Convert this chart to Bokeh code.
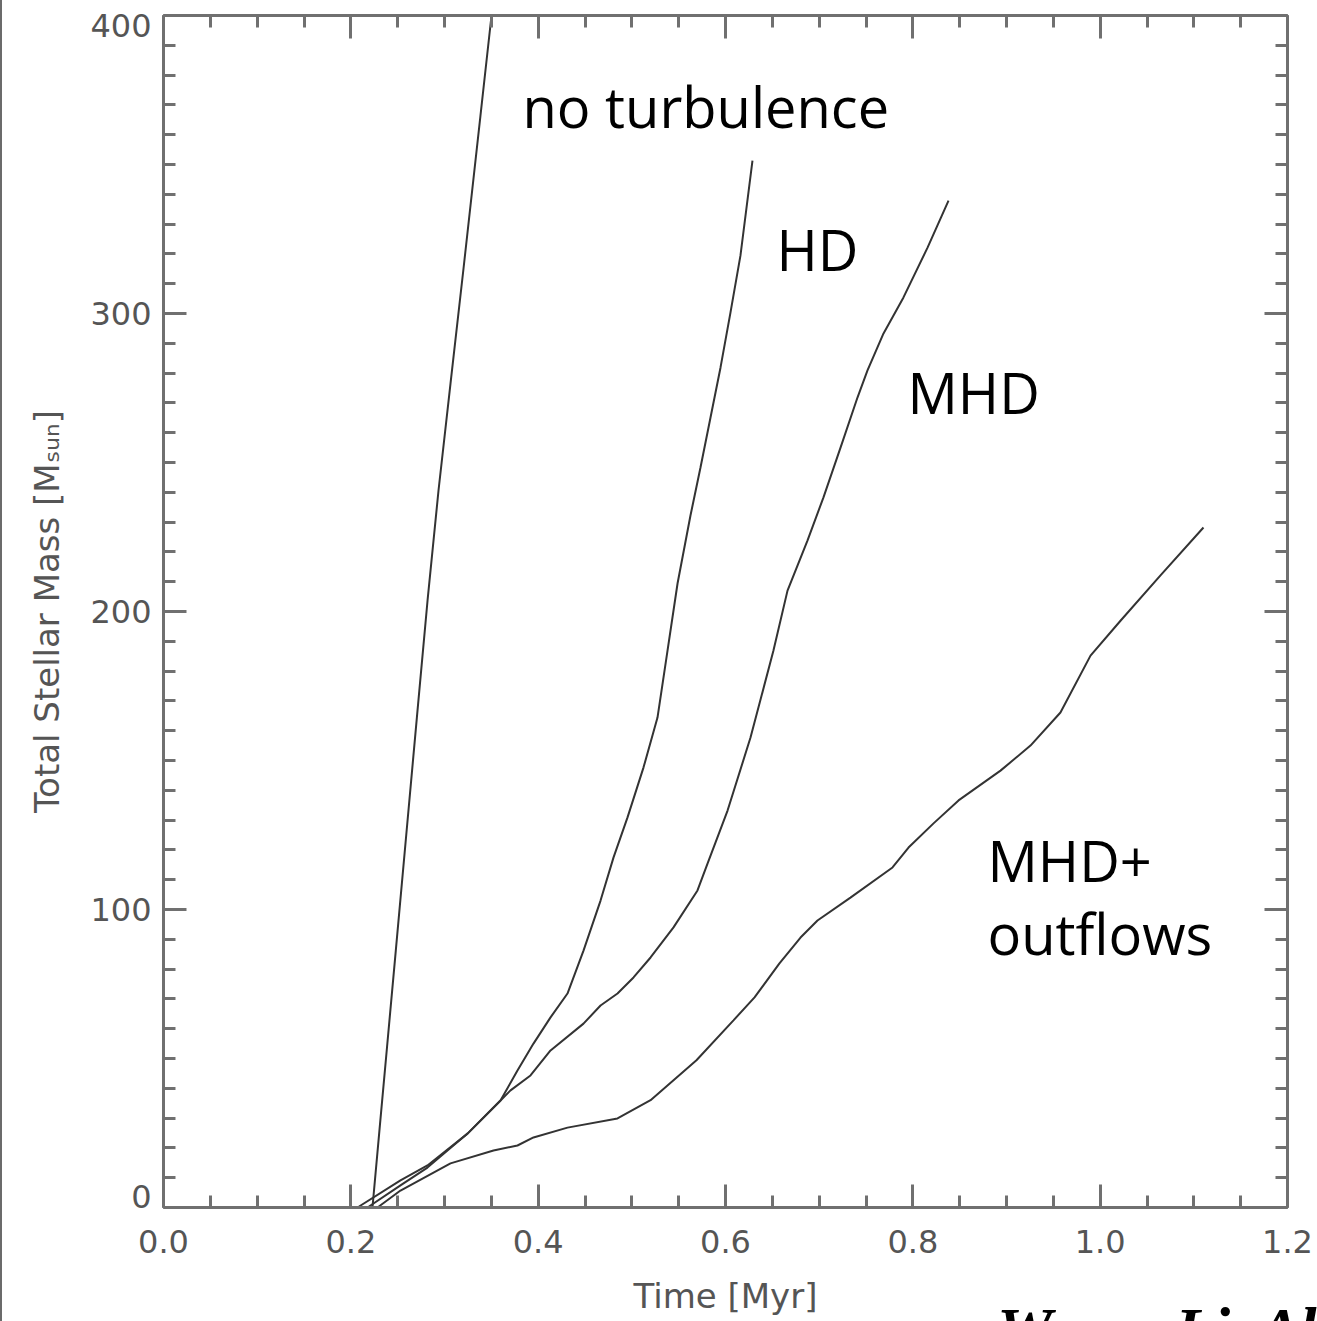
from bokeh.plotting import figure
from bokeh.models import (FixedTicker, LinearAxis, Label, Range1d,
                          PrintfTickFormatter, CustomJSTickFormatter)
from bokeh.embed import file_html
from bokeh.resources import INLINE

# ---- data (Time [Myr], Total Stellar Mass [Msun]) ----
time_noturb = [0.2231, 0.2310, 0.2386, 0.2480, 0.2593, 0.2705, 0.2819, 0.2936,
               0.3064, 0.3203, 0.3384, 0.3502]
mass_noturb = [0.0, 27.5, 53.7, 86.2, 125.5, 164.4, 203.7, 240.6,
               276.5, 315.1, 366.4, 400.0]

time_hd = [0.2071, 0.2530, 0.2818, 0.3246, 0.3598, 0.3779, 0.3950, 0.4132,
           0.4313, 0.4484, 0.4666, 0.4804, 0.4954, 0.5125, 0.5274, 0.5381,
           0.5488, 0.5626, 0.5733, 0.5840, 0.5947, 0.6053, 0.6160, 0.6288]
mass_hd = [0.0, 9.1, 14.1, 24.8, 35.9, 46.0, 55.0, 63.8,
           71.8, 86.2, 103.0, 117.4, 130.9, 147.7, 164.4, 186.9,
           209.4, 232.2, 248.3, 265.1, 281.9, 300.3, 319.5, 351.3]

time_mhd = [0.2178, 0.2530, 0.2818, 0.3246, 0.3598, 0.3705, 0.3918, 0.4132,
            0.4484, 0.4666, 0.4847, 0.5018, 0.5200, 0.5445, 0.5701, 0.5808,
            0.6022, 0.6267, 0.6512, 0.6662, 0.6875, 0.7046, 0.7228, 0.7409,
            0.7516, 0.7687, 0.7900, 0.8157, 0.8381]
mass_mhd = [0.0, 7.4, 13.4, 24.8, 35.9, 39.3, 44.3, 52.7,
            61.7, 67.8, 71.8, 77.2, 83.9, 94.0, 106.4, 115.4,
            133.2, 157.7, 186.9, 207.0, 223.8, 238.3, 255.0, 271.8,
            280.9, 293.3, 305.4, 322.1, 337.9]

time_out = [0.2285, 0.2530, 0.3064, 0.3523, 0.3779, 0.3950, 0.4313, 0.4847,
            0.5200, 0.5690, 0.6085, 0.6310, 0.6576, 0.6801, 0.6982, 0.7334,
            0.7783, 0.7954, 0.8221, 0.8488, 0.8936, 0.9256, 0.9576, 0.9897,
            1.0217, 1.0644, 1.1103]
mass_out = [0.0, 5.7, 14.8, 19.1, 20.8, 23.5, 26.8, 29.9,
            36.0, 49.4, 62.8, 70.5, 81.9, 90.6, 96.3, 104.0,
            114.1, 120.8, 128.9, 136.6, 146.6, 155.0, 166.1, 185.2,
            196.9, 212.1, 228.2]

x_tick_labels = ["0.0", "0.2", "0.4", "0.6", "0.8", "1.0", "1.2"]
y_tick_labels = ["0", "100", "200", "300", "400"]

series_labels = ["no turbulence", "HD", "MHD", "MHD+", "outflows"]
label_pos_x = [0.3833, 0.6544, 0.7943, 0.8797, 0.8797]
label_pos_y = [369.5, 321.8, 273.5, 116.5, 92.0]

citation = "Wang, Li, Abel & Nakamura 2010"

AX = "#707070"
TXT = "#555555"
LINE = "#333333"

x_major = [float(s) for s in x_tick_labels]
y_major = [float(s) for s in y_tick_labels]
x_minor = [round(i * 0.05, 2) for i in range(25)]
y_minor = [i * 10 for i in range(41)]
X0, X1 = x_major[0], x_major[-1]
Y0, Y1 = y_major[0], y_major[-1]

# page layout: the axes box spans x 163..1287 px and y 15..1207 px of the page
W, H = 1315, 1321          # canvas (a 2 px border line sits left of it)
BOX_L, BOX_R, BOX_T, BOX_B = 161, 1285, 15, 1207
sx = (BOX_R - BOX_L) / (X1 - X0)
sy = (BOX_B - BOX_T) / (Y1 - Y0)
x_range = Range1d(X0 - BOX_L / sx, X0 - BOX_L / sx + W / sx)
y_range = Range1d(Y0 - (H - BOX_B) / sy, Y1 + BOX_T / sy)

p = figure(frame_width=W, frame_height=H, min_border=0,
           x_range=x_range, y_range=y_range,
           x_axis_type=None, y_axis_type=None,
           output_backend="svg", toolbar_location=None)
p.grid.visible = False
p.outline_line_color = None
p.background_fill_color = "white"
p.border_fill_color = "white"
p.styles = {"border-left": "2px solid #6b6b6b"}


def style_axis(ax, show_labels):
    ax.axis_line_color = AX
    ax.axis_line_width = 3
    ax.major_tick_line_color = AX
    ax.major_tick_line_width = 3
    ax.minor_tick_line_color = AX
    ax.minor_tick_line_width = 3
    ax.major_tick_in = 23
    ax.major_tick_out = 0
    ax.minor_tick_in = 12
    ax.minor_tick_out = 0
    if show_labels:
        ax.major_label_text_font = "DejaVu Sans"
        ax.major_label_text_font_size = "32px"
        ax.major_label_text_color = TXT
        ax.axis_label_text_font = "DejaVu Sans"
        ax.axis_label_text_font_size = "34px"
        ax.axis_label_text_font_style = "normal"
        ax.axis_label_text_color = TXT
    else:
        ax.formatter = CustomJSTickFormatter(code="return ''")
        ax.major_label_text_font_size = "0px"
        ax.major_label_standoff = 0


def xticker():
    return FixedTicker(ticks=x_major, minor_ticks=x_minor)


def yticker():
    return FixedTicker(ticks=y_major, minor_ticks=y_minor)


xb = LinearAxis(ticker=xticker(), formatter=PrintfTickFormatter(format="%.1f"),
                axis_label="Time [Myr]", fixed_location=Y0, bounds=(X0, X1))
style_axis(xb, True)
xb.major_label_standoff = 22
xb.axis_label_standoff = 20
p.add_layout(xb, "below")

yl = LinearAxis(ticker=yticker(),
                axis_label="Total Stellar Mass [M\u209b\u1d64\u2099]",
                fixed_location=X0, bounds=(Y0, Y1))
style_axis(yl, True)
yl.major_label_standoff = 12
yl.axis_label_standoff = 20
yl.major_label_overrides = {0: "", 400: ""}
p.add_layout(yl, "left")

xt = LinearAxis(ticker=xticker(), fixed_location=Y1, bounds=(X0, X1))
style_axis(xt, False)
p.add_layout(xt, "above")

yr = LinearAxis(ticker=yticker(), fixed_location=X1, bounds=(Y0, Y1))
style_axis(yr, False)
p.add_layout(yr, "right")

# the end labels "0" and "400" sit just inside the box, as in the original
for txt, yv in [(y_tick_labels[0], Y0 + 11 / sy), (y_tick_labels[-1], Y1 - 10 / sy)]:
    p.add_layout(Label(x=X0 - 12 / sx, y=yv, text=txt, text_font="DejaVu Sans",
                       text_font_size="32px", text_color=TXT,
                       text_align="right", text_baseline="middle"))

for xs, ys in [(time_noturb, mass_noturb), (time_hd, mass_hd),
               (time_mhd, mass_mhd), (time_out, mass_out)]:
    p.line(xs, ys, line_color=LINE, line_width=2)

for t, lx, ly in zip(series_labels, label_pos_x, label_pos_y):
    p.add_layout(Label(x=lx, y=ly, text=t, text_font="Open Sans",
                       text_font_size="56px", text_color="black",
                       text_baseline="alphabetic", text_align="left"))

# citation, mostly cut off at the bottom edge of the page
p.add_layout(Label(x=0.890, y=-40.8, text=citation,
                   text_font="Liberation Serif", text_font_size="62px",
                   text_font_style="bold italic", text_color="black",
                   text_baseline="alphabetic", text_align="left"))

open("out.html", "w").write(file_html(p, INLINE))
